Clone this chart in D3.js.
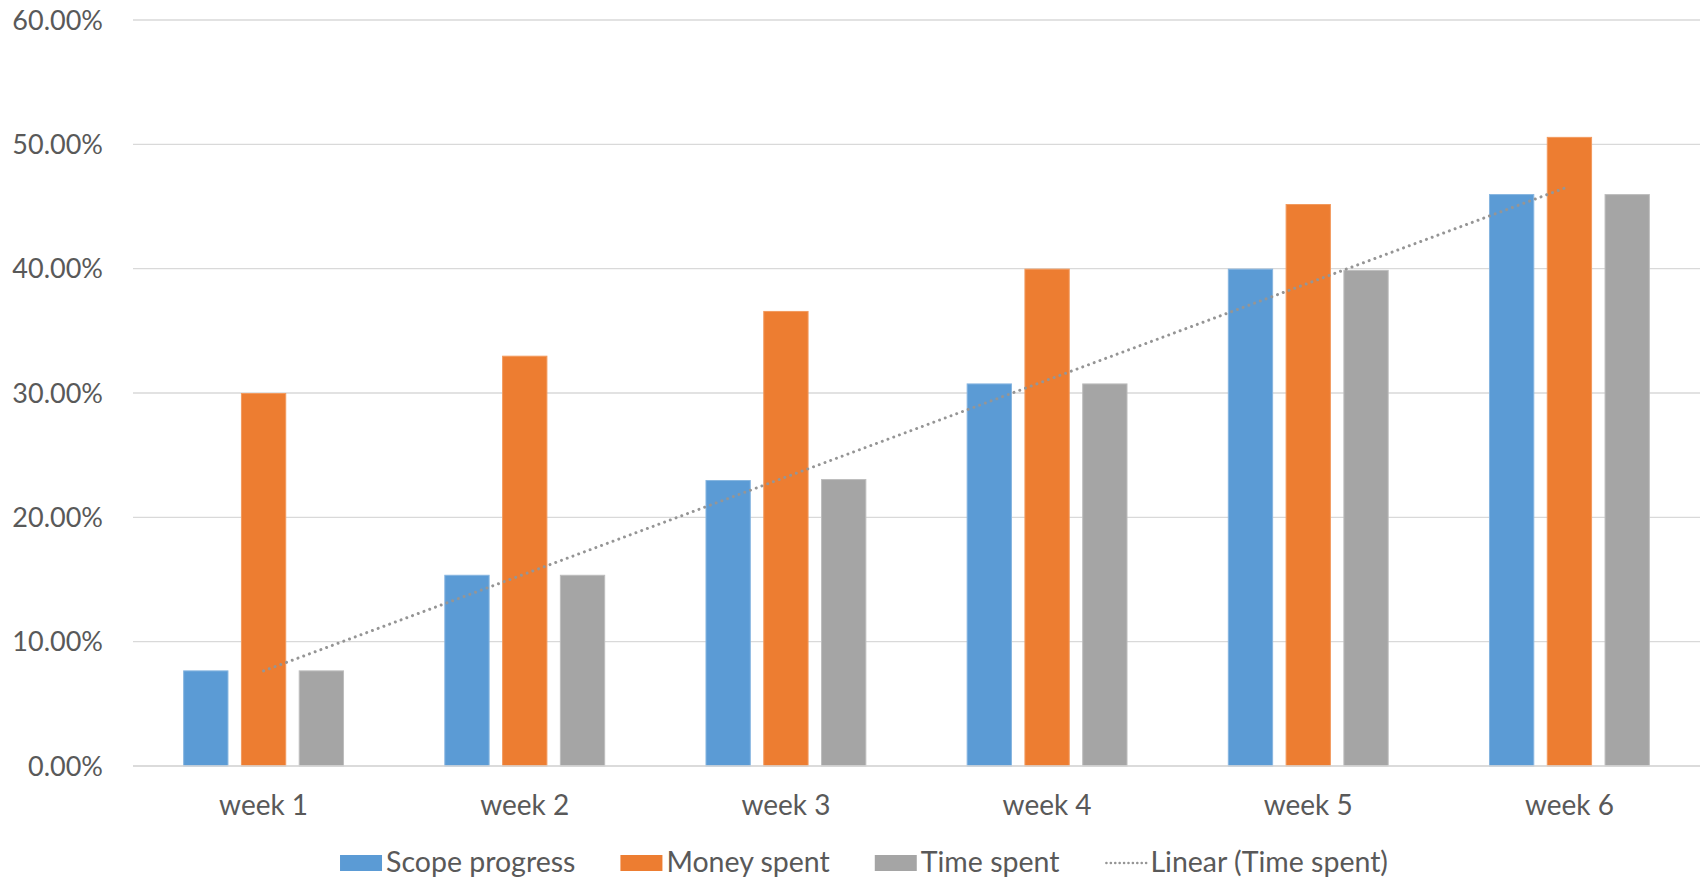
<!DOCTYPE html>
<html>
<head>
    <meta charset="utf-8">
    <title>Scope vs money vs time</title>
    <script src="https://d3js.org/d3.v7.min.js"></script>
    <style>
        html, body { margin: 0; background: #fff; }
        svg { display: block; }
        text { font-family: Lato, "Open Sans", sans-serif; fill: #595959; }
        .grid line { stroke: #d9d9d9; stroke-width: 1.3px; }
    </style>
</head>
<body>
    <svg></svg>
    <script>
        // data
        var weeks = ["week 1", "week 2", "week 3", "week 4", "week 5", "week 6"];
        var seriesNames = ["Scope progress", "Money spent", "Time spent"];
        var scopeProgress = [7.69, 15.38, 23.0, 30.77, 40.0, 46.0];
        var moneySpent = [30.0, 33.0, 36.6, 40.0, 45.2, 50.6];
        var timeSpent = [7.69, 15.38, 23.08, 30.77, 39.9, 46.0];
        var yTicks = [0, 10, 20, 30, 40, 50, 60];
        var colors = ["#5b9bd5", "#ed7d31", "#a5a5a5"];
        var borders = ["#86b5e0", "#f29a5e", "#bdbdbd"];

        const width = 1701, height = 882;
        const margin = {left: 133, right: 1, top: 20, bottom: 116};

        var svg = d3.select("svg").attr("width", width).attr("height", height);

        var x0 = d3.scaleBand().domain(weeks).range([margin.left, width - margin.right]);
        var x1 = d3.scaleBand().domain(seriesNames).range([0, x0.bandwidth()])
            .paddingInner(0.216).paddingOuter(0.868);
        var y = d3.scaleLinear().domain([0, 60]).range([height - margin.bottom, margin.top]);

        // gridlines
        svg.append("g").attr("class", "grid")
            .selectAll("line").data(yTicks).enter().append("line")
            .attr("x1", margin.left).attr("x2", width - margin.right)
            .attr("y1", d => y(d)).attr("y2", d => y(d));

        // y labels
        svg.append("g").selectAll("text").data(yTicks).enter().append("text")
            .attr("x", 103).attr("y", d => y(d)).attr("dy", "0.36em")
            .attr("text-anchor", "end").attr("font-size", 27)
            .text(d => d3.format(".2f")(d) + "%");

        // bars
        var rows = weeks.map((w, i) => ({week: w, values: [scopeProgress[i], moneySpent[i], timeSpent[i]]}));
        var group = svg.append("g").selectAll("g").data(rows).enter().append("g")
            .attr("transform", d => "translate(" + x0(d.week) + ",0)");
        group.selectAll("rect")
            .data(d => d.values.map((v, j) => ({name: seriesNames[j], value: v, j: j})))
            .enter().append("rect")
            .attr("x", d => x1(d.name) + 0.5)
            .attr("width", x1.bandwidth() - 1)
            .attr("y", d => y(d.value) + 0.5)
            .attr("height", d => y(0) - y(d.value) - 0.5)
            .attr("fill", d => colors[d.j])
            .attr("stroke", d => borders[d.j])
            .attr("stroke-width", 1);

        // x axis baseline drawn over bars
        svg.append("line")
            .attr("x1", margin.left).attr("x2", width - margin.right)
            .attr("y1", y(0)).attr("y2", y(0))
            .attr("stroke", "#d9d9d9").attr("stroke-width", 1.6);

        // x labels
        svg.append("g").selectAll("text").data(weeks).enter().append("text")
            .attr("x", d => x0(d) + x0.bandwidth() / 2).attr("y", 815)
            .attr("text-anchor", "middle").attr("font-size", 28)
            .text(d => d);

        // linear trendline of time spent (least squares)
        var n = timeSpent.length;
        var xs = d3.range(1, n + 1);
        var mx = d3.mean(xs), my = d3.mean(timeSpent);
        var slope = d3.sum(xs, (v, i) => (v - mx) * (timeSpent[i] - my)) / d3.sum(xs, v => (v - mx) * (v - mx));
        var icpt = my - slope * mx;
        var trend = [1, n].map(k => ({week: weeks[k - 1], value: icpt + slope * k}));
        svg.append("path")
            .datum(trend)
            .attr("d", d3.line().x(d => x0(d.week) + x0.bandwidth() / 2).y(d => y(d.value)))
            .attr("fill", "none").attr("stroke", "#959595").attr("stroke-width", 3)
            .attr("stroke-linecap", "round").attr("stroke-dasharray", "0.01 6.1");

        // legend
        var legendItems = seriesNames.concat(["Linear (Time spent)"]);
        var legend = svg.append("g");
        var lx = 0;
        legendItems.forEach(function(name, i) {
            var g = legend.append("g").attr("transform", "translate(" + lx + ",0)");
            if (i < 3) {
                g.append("rect").attr("x", 0).attr("y", 855).attr("width", 42).attr("height", 16)
                    .attr("fill", colors[i]);
            } else {
                g.append("line").attr("x1", 2).attr("x2", 42).attr("y1", 863).attr("y2", 863)
                    .attr("stroke", "#959595").attr("stroke-width", 2.6)
                    .attr("stroke-linecap", "round").attr("stroke-dasharray", "0.01 4.4");
            }
            var t = g.append("text").attr("x", 46).attr("y", 872).attr("font-size", 28.5).text(name);
            lx += 46 + t.node().getComputedTextLength() + 45;
        });
        var total = lx - 45;
        legend.attr("transform", "translate(" + (864 - total / 2) + ",0)");
    </script>
</body>
</html>
